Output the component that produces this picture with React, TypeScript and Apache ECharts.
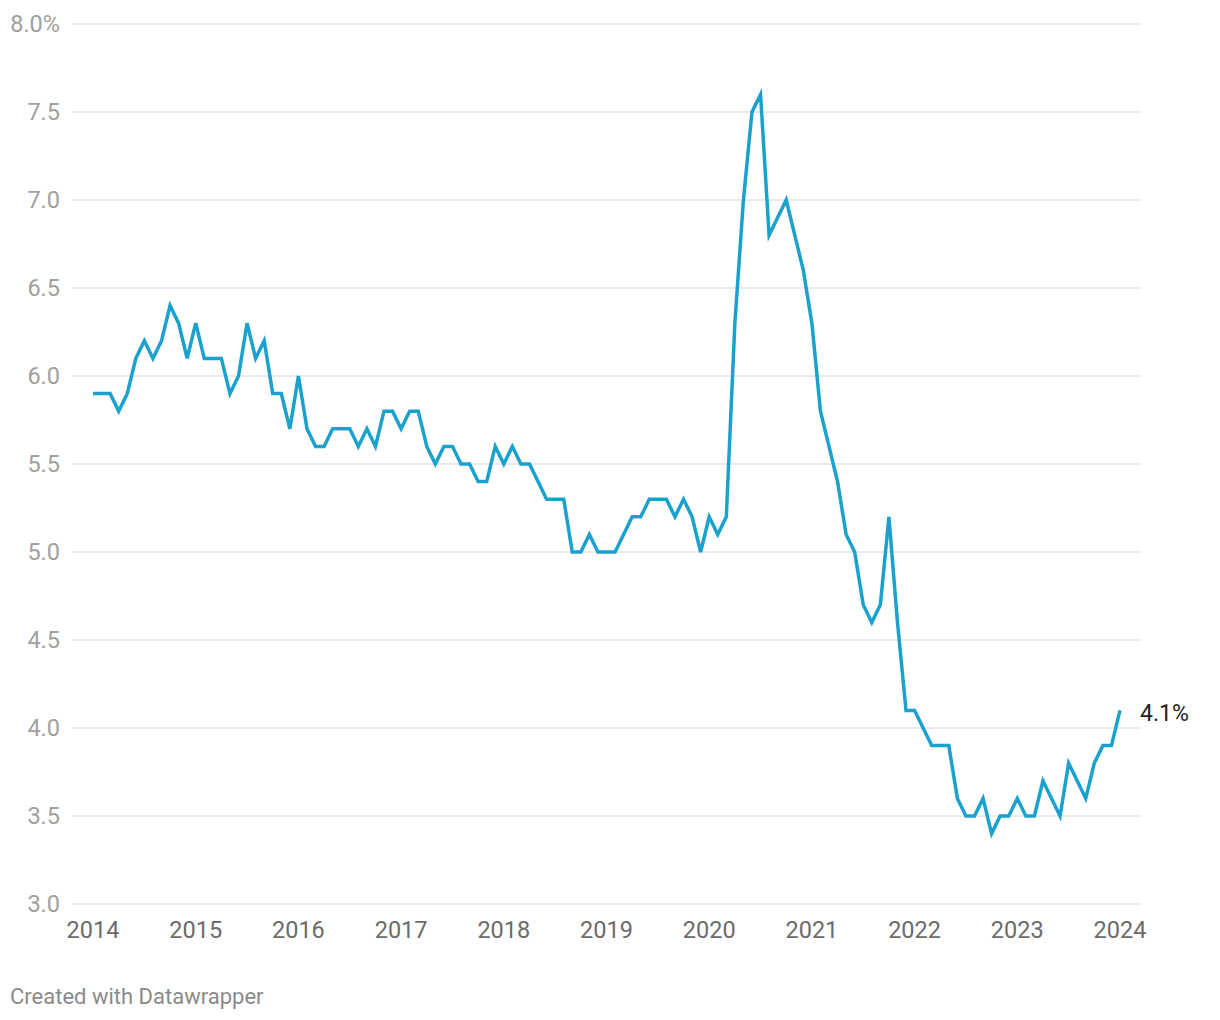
import React, { useEffect, useRef } from "react";
import * as echarts from "echarts";

// Monthly values, Jan 2014 .. Jan 2024 (%)
const values2014 = [5.9, 5.9, 5.9, 5.8, 5.9, 6.1, 6.2, 6.1, 6.2, 6.4, 6.3, 6.1];
const values2015 = [6.3, 6.1, 6.1, 6.1, 5.9, 6.0, 6.3, 6.1, 6.2, 5.9, 5.9, 5.7];
const values2016 = [6.0, 5.7, 5.6, 5.6, 5.7, 5.7, 5.7, 5.6, 5.7, 5.6, 5.8, 5.8];
const values2017 = [5.7, 5.8, 5.8, 5.6, 5.5, 5.6, 5.6, 5.5, 5.5, 5.4, 5.4, 5.6];
const values2018 = [5.5, 5.6, 5.5, 5.5, 5.4, 5.3, 5.3, 5.3, 5.0, 5.0, 5.1, 5.0];
const values2019 = [5.0, 5.0, 5.1, 5.2, 5.2, 5.3, 5.3, 5.3, 5.2, 5.3, 5.2, 5.0];
const values2020 = [5.2, 5.1, 5.2, 6.3, 7.0, 7.5, 7.6, 6.8, 6.9, 7.0, 6.8, 6.6];
const values2021 = [6.3, 5.8, 5.6, 5.4, 5.1, 5.0, 4.7, 4.6, 4.7, 5.2, 4.6, 4.1];
const values2022 = [4.1, 4.0, 3.9, 3.9, 3.9, 3.6, 3.5, 3.5, 3.6, 3.4, 3.5, 3.5];
const values2023 = [3.6, 3.5, 3.5, 3.7, 3.6, 3.5, 3.8, 3.7, 3.6, 3.8, 3.9, 3.9];
const values2024 = [4.1];

const startYear = 2014;
const yearTicks = [2014, 2015, 2016, 2017, 2018, 2019, 2020, 2021, 2022, 2023, 2024];
const yTicks = [3.0, 3.5, 4.0, 4.5, 5.0, 5.5, 6.0, 6.5, 7.0, 7.5, 8.0];

const allValues = [
  ...values2014, ...values2015, ...values2016, ...values2017, ...values2018,
  ...values2019, ...values2020, ...values2021, ...values2022, ...values2023,
  ...values2024,
];

export default function App() {
  const ref = useRef<HTMLDivElement>(null);

  useEffect(() => {
    document.body.style.margin = "0";
    if (!ref.current) return;
    const chart = echarts.init(ref.current, null, { renderer: "svg" });

    const data = allValues.map((v, i) => [i, v]);
    const lastIdx = allValues.length - 1;
    const pad = 2.34;

    chart.setOption({
      animation: false,
      backgroundColor: "#ffffff",
      textStyle: { fontFamily: "Roboto" },
      grid: { left: 73, right: 80, top: 24, bottom: 116, containLabel: false },
      xAxis: {
        type: "value",
        min: -pad,
        max: lastIdx + pad,
        axisLine: { show: false },
        axisTick: { show: false },
        splitLine: { show: false },
        axisLabel: {
          customValues: yearTicks.map((y) => (y - startYear) * 12),
          formatter: (v: number) => String(Math.round(startYear + v / 12)),
          color: "#6b6b6b",
          fontSize: 23.5,
          fontFamily: "Roboto",
          margin: 14,
        },
      },
      yAxis: {
        type: "value",
        min: yTicks[0],
        max: yTicks[yTicks.length - 1],
        interval: 0.5,
        axisLine: { show: false },
        axisTick: { show: false },
        splitLine: { show: true, lineStyle: { color: "#e3e3e3", width: 1.6 } },
        axisLabel: {
          formatter: (v: number) =>
            v === yTicks[yTicks.length - 1] ? v.toFixed(1) + "%" : v.toFixed(1),
          color: "#a0a0a0",
          fontSize: 23.5,
          fontFamily: "Roboto",
          margin: 13,
        },
      },
      series: [
        {
          type: "line",
          data,
          showSymbol: false,
          symbol: "none",
          lineStyle: { color: "#1aa1cd", width: 3.5, join: "miter" },
          itemStyle: { color: "#1aa1cd" },
          endLabel: {
            show: true,
            formatter: (p: any) => `${p.value[1].toFixed(1)}%`,
            color: "#222222",
            fontSize: 23,
            fontFamily: "Roboto",
            distance: 20,
            offset: [0, 3],
          },
        },
      ],
      graphic: [
        {
          type: "text",
          left: 10,
          top: 985,
          style: {
            text: "Created with Datawrapper",
            fill: "#8a8a8a",
            fontSize: 22,
            fontFamily: "Roboto",
          },
        },
      ],
    });

    return () => chart.dispose();
  }, []);

  return <div ref={ref} style={{ width: 1220, height: 1020 }} />;
}
